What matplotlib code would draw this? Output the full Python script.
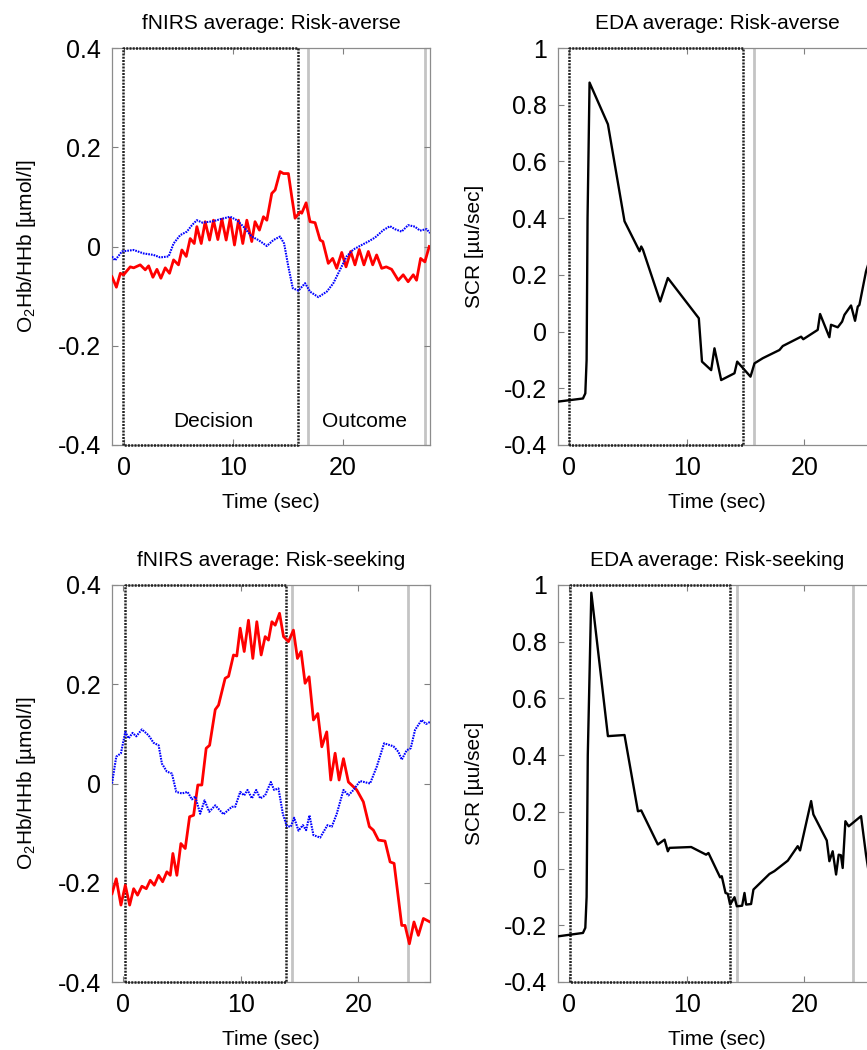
import matplotlib
matplotlib.use('Agg')
import matplotlib.pyplot as plt
from matplotlib.ticker import FuncFormatter

plt.rcParams['font.family'] = ['Liberation Sans', 'DejaVu Sans']
plt.rcParams['axes.unicode_minus'] = False
plt.rcParams['mathtext.fontset'] = 'custom'
plt.rcParams['mathtext.rm'] = 'Liberation Sans'
plt.rcParams['mathtext.it'] = 'Liberation Sans:italic'
plt.rcParams['mathtext.default'] = 'regular'

# fNIRS, risk-averse (time in sec, concentration in umol/l)
ra_o2_t = [-1.08, -0.68, -0.32, -0.02, 0.59, 0.9, 1.5, 1.96, 2.27, 2.66, 3.03, 3.39, 3.79, 4.18,
           4.55, 5.0, 5.31, 5.71, 6.07, 6.44, 6.68, 7.08, 7.44, 7.84, 8.2, 8.6, 8.97, 9.36, 9.73,
           10.12, 10.49, 10.88, 11.25, 11.7, 12.0, 12.4, 12.77, 13.08, 13.53, 13.84, 14.29, 14.6,
           15.05, 15.36, 15.66, 16.12, 16.27, 16.67, 17.03, 17.49, 17.95, 18.2, 18.7, 19.1, 19.47,
           19.93, 20.32, 20.75, 21.14, 21.53, 21.96, 22.36, 22.76, 23.12, 23.58, 24.0, 24.49, 25.1,
           25.55, 26.0, 26.47, 26.77, 27.14, 27.53, 27.93]
ra_o2 = [-0.061, -0.082, -0.054, -0.057, -0.041, -0.043, -0.037, -0.047, -0.039, -0.062, -0.046,
         -0.064, -0.043, -0.054, -0.027, -0.037, -0.007, -0.02, 0.016, 0.006, 0.04, 0.006, 0.05,
         0.013, 0.053, 0.014, 0.055, 0.013, 0.057, 0.003, 0.053, 0.006, 0.053, 0.01, 0.05, 0.033,
         0.06, 0.053, 0.107, 0.114, 0.151, 0.147, 0.147, 0.1, 0.057, 0.07, 0.067, 0.088, 0.05,
         0.048, 0.013, 0.01, -0.034, -0.024, -0.044, -0.012, -0.041, -0.01, -0.037, -0.006, -0.037,
         -0.01, -0.037, -0.017, -0.044, -0.041, -0.046, -0.068, -0.057, -0.071, -0.057, -0.068,
         -0.024, -0.031, 0.0]
ra_hhb_t = [-1.08, -0.8, -0.17, 0.9, 1.81, 2.72, 3.33, 4.1, 4.55, 5.16, 5.77, 6.23, 6.68, 7.2, 8.2,
            8.81, 9.73, 10.34, 10.94, 11.7, 12.31, 13.08, 13.68, 14.29, 14.66, 15.05, 15.45, 15.96,
            16.58, 17.03, 17.79, 18.56, 19.16, 19.77, 20.38, 20.99, 21.75, 22.36, 22.97, 23.73,
            24.34, 24.79, 25.4, 26.0, 26.62, 27.08, 27.69, 28.0]
ra_hhb = [-0.02, -0.028, -0.01, -0.007, -0.014, -0.017, -0.022, -0.02, 0.006, 0.023, 0.03, 0.043,
          0.053, 0.048, 0.051, 0.055, 0.06, 0.053, 0.04, 0.02, 0.013, 0.001, 0.013, 0.02, 0.006,
          -0.041, -0.084, -0.089, -0.074, -0.091, -0.102, -0.091, -0.074, -0.047, -0.02, -0.006,
          0.003, 0.01, 0.018, 0.033, 0.041, 0.035, 0.03, 0.043, 0.04, 0.032, 0.035, 0.027]

# fNIRS, risk-seeking
rs_o2_t = [-0.93, -0.57, -0.17, 0.2, 0.57, 0.91, 1.24, 1.61, 1.98, 2.32, 2.66, 3.03, 3.37, 3.73,
           4.02, 4.24, 4.58, 4.92, 5.29, 5.66, 6.0, 6.36, 6.7, 7.07, 7.36, 7.84, 8.12, 8.68, 8.97,
           9.39, 9.67, 9.96, 10.3, 10.66, 11.03, 11.37, 11.74, 12.08, 12.36, 12.65, 12.93, 13.3,
           13.64, 14.06, 14.48, 14.82, 15.13, 15.47, 15.81, 16.18, 16.55, 16.89, 17.31, 17.65,
           18.02, 18.36, 18.73, 19.15, 19.86, 20.42, 20.93, 21.27, 21.7, 22.26, 22.69, 23.03,
           23.68, 23.96, 24.33, 24.72, 25.09, 25.52, 26.08]
rs_o2 = [-0.222, -0.192, -0.245, -0.205, -0.245, -0.212, -0.225, -0.207, -0.212, -0.195, -0.205,
         -0.185, -0.198, -0.178, -0.185, -0.141, -0.185, -0.121, -0.131, -0.067, -0.064, -0.003,
         -0.003, 0.071, 0.077, 0.149, 0.158, 0.212, 0.216, 0.259, 0.257, 0.313, 0.266, 0.329,
         0.252, 0.326, 0.259, 0.296, 0.289, 0.326, 0.319, 0.343, 0.296, 0.286, 0.309, 0.252,
         0.266, 0.202, 0.215, 0.128, 0.141, 0.074, 0.104, 0.007, 0.061, 0.007, 0.05, 0.003,
         -0.013, -0.037, -0.087, -0.094, -0.114, -0.116, -0.158, -0.161, -0.286, -0.286, -0.323,
         -0.279, -0.306, -0.272, -0.279]
rs_hhb_t = [-0.93, -0.57, -0.17, 0.2, 0.48, 0.82, 1.13, 1.61, 2.18, 2.6, 3.03, 3.31, 3.73, 4.16,
            4.53, 5.01, 5.49, 5.86, 6.14, 6.56, 6.93, 7.33, 7.84, 8.54, 9.25, 9.53, 9.96, 10.3,
            10.58, 10.95, 11.32, 11.66, 12.08, 12.56, 12.84, 13.21, 13.58, 13.92, 14.26, 14.54,
            14.91, 15.28, 15.56, 15.84, 16.18, 16.75, 17.37, 17.74, 18.16, 18.73, 19.15, 19.58,
            20.14, 20.99, 21.56, 22.18, 22.97, 23.39, 23.68, 24.1, 24.44, 24.81, 25.37, 25.74,
            26.08]
rs_hhb = [0.0, 0.054, 0.061, 0.104, 0.091, 0.102, 0.095, 0.109, 0.097, 0.082, 0.077, 0.04, 0.024,
          0.02, -0.017, -0.02, -0.017, -0.032, -0.026, -0.061, -0.034, -0.057, -0.044, -0.062,
          -0.047, -0.047, -0.017, -0.024, -0.013, -0.03, -0.013, -0.03, -0.024, 0.003, -0.013,
          -0.01, -0.061, -0.086, -0.087, -0.069, -0.095, -0.084, -0.094, -0.064, -0.104, -0.109,
          -0.084, -0.087, -0.061, -0.013, -0.024, -0.013, 0.005, 0.0, 0.034, 0.081, 0.075, 0.064,
          0.048, 0.067, 0.071, 0.108, 0.128, 0.12, 0.124]

# EDA, risk-averse (SCR)
ra_eda_t = [-0.93, 1.19, 1.39, 1.5, 1.58, 1.75, 3.31, 4.72, 6.0, 6.14, 6.28, 7.75, 8.4, 11.03,
            11.3, 12.08, 12.36, 12.93, 14.06, 14.29, 15.42, 15.76, 16.46, 17.88, 18.16, 19.72,
            19.9, 21.13, 21.33, 22.12, 22.26, 22.83, 23.2, 23.4, 23.96, 24.3, 24.53, 24.67, 25.23,
            25.9]
ra_eda = [-0.247, -0.236, -0.218, -0.1, 0.4, 0.878, 0.731, 0.389, 0.283, 0.3, 0.289, 0.106, 0.189,
          0.047, -0.106, -0.136, -0.059, -0.171, -0.147, -0.106, -0.159, -0.112, -0.094, -0.065,
          -0.051, -0.018, -0.027, 0.006, 0.062, -0.02, 0.024, 0.015, 0.035, 0.059, 0.092, 0.038,
          0.088, 0.094, 0.212, 0.3]

# EDA, risk-seeking (SCR)
rs_eda_t = [-0.93, 1.19, 1.39, 1.5, 1.6, 1.9, 3.31, 4.72, 5.86, 6.14, 7.55, 8.12, 8.4, 8.54,
            10.38, 11.65, 11.85, 12.84, 12.98, 13.3, 13.49, 13.69, 14.06, 14.26, 14.71, 14.91,
            15.05, 15.47, 15.67, 17.03, 17.45, 18.59, 19.43, 19.63, 20.57, 20.76, 21.9, 22.12,
            22.4, 22.69, 22.91, 23.1, 23.25, 23.48, 23.76, 24.81, 25.23, 25.6]
rs_eda = [-0.239, -0.227, -0.209, -0.1, 0.4, 0.973, 0.467, 0.471, 0.202, 0.205, 0.085, 0.102,
          0.061, 0.073, 0.076, 0.049, 0.055, -0.031, -0.027, -0.086, -0.089, -0.127, -0.101,
          -0.133, -0.131, -0.086, -0.127, -0.125, -0.074, -0.019, -0.009, 0.028, 0.079, 0.064,
          0.238, 0.191, 0.099, 0.026, 0.061, -0.021, 0.049, 0.047, 0.002, 0.167, 0.149, 0.185,
          0.049, -0.05]

# event markers: decision window (start, end) and gray onset lines
ra_fnirs_decision = (-0.05, 15.9)
ra_fnirs_events = [16.8, 27.53]
rs_fnirs_decision = (0.2, 13.83)
rs_fnirs_events = [14.34, 24.24]
ra_eda_decision = (0.0, 14.8)
ra_eda_events = [15.7]
rs_eda_decision = (0.1, 13.69)
rs_eda_events = [14.26, 24.16]

fig = plt.figure(figsize=(8.67, 10.5), dpi=100)
W, H = 867.0, 1050.0


def make_axes(left, top, width=318, height=397):
    return fig.add_axes([left / W, 1 - (top + height) / H, width / W, height / H])


def style(ax, xlim, ylim, yticks, title, ylabel):
    ax.set_xlim(xlim)
    ax.set_ylim(ylim)
    ax.set_xticks([0, 10, 20])
    ax.set_yticks(yticks)
    ax.yaxis.set_major_formatter(FuncFormatter(lambda v, p: '%g' % round(v, 2)))
    ax.tick_params(direction='in', length=4, width=0.8, color='#808080', labelsize=18,
                   top=True, right=True, pad=8)
    for s in ax.spines.values():
        s.set_color('#8c8c8c')
        s.set_linewidth(0.9)
    ax.set_title(title, fontsize=15, pad=14)
    ax.set_xlabel('Time (sec)', fontsize=15, labelpad=9)
    ax.set_ylabel(ylabel, fontsize=15, labelpad=14)


def events(ax, decision, marks, ylim):
    x0, x1 = decision
    ax.plot([x0, x0, x1, x1, x0], [ylim[0], ylim[1], ylim[1], ylim[0], ylim[0]],
            color='#222222', lw=1.8, ls=(0, (0.8, 0.5)), clip_on=False, zorder=3)
    for m in marks:
        ax.axvline(m, color='#c4c4c4', lw=2, zorder=1)


fn_ylim = (-0.4, 0.4)
eda_ylim = (-0.4, 1.0)
fn_label = 'O$_2$Hb/HHb [µmol/l]'
eda_label = 'SCR [µu/sec]'
red_kw = dict(color='red', lw=2.0, solid_joinstyle='round', zorder=4)
blue_kw = dict(color='blue', lw=1.5, ls=(0, (0.8, 0.5)), zorder=4)
eda_kw = dict(color='black', lw=1.7, solid_joinstyle='round', zorder=4)

ax1 = make_axes(112, 48)
events(ax1, ra_fnirs_decision, ra_fnirs_events, fn_ylim)
ax1.plot(ra_o2_t, ra_o2, **red_kw)
ax1.plot(ra_hhb_t, ra_hhb, **blue_kw)
style(ax1, (-1.08, 28.0), fn_ylim, [-0.4, -0.2, 0, 0.2, 0.4], 'fNIRS average: Risk-averse', fn_label)
ax1.text(8.2, -0.353, 'Decision', fontsize=15, ha='center', va='center')
ax1.text(22.05, -0.353, 'Outcome', fontsize=15, ha='center', va='center')

ax2 = make_axes(558, 48)
events(ax2, ra_eda_decision, ra_eda_events, eda_ylim)
ax2.plot(ra_eda_t, ra_eda, **eda_kw)
style(ax2, (-0.93, 26.08), eda_ylim, [-0.4, -0.2, 0, 0.2, 0.4, 0.6, 0.8, 1.0],
      'EDA average: Risk-averse', eda_label)

ax3 = make_axes(112, 585)
events(ax3, rs_fnirs_decision, rs_fnirs_events, fn_ylim)
ax3.plot(rs_o2_t, rs_o2, **red_kw)
ax3.plot(rs_hhb_t, rs_hhb, **blue_kw)
style(ax3, (-0.93, 26.08), fn_ylim, [-0.4, -0.2, 0, 0.2, 0.4], 'fNIRS average: Risk-seeking', fn_label)

ax4 = make_axes(558, 585)
events(ax4, rs_eda_decision, rs_eda_events, eda_ylim)
ax4.plot(rs_eda_t, rs_eda, **eda_kw)
style(ax4, (-0.93, 26.08), eda_ylim, [-0.4, -0.2, 0, 0.2, 0.4, 0.6, 0.8, 1.0],
      'EDA average: Risk-seeking', eda_label)

fig.savefig('out.png', dpi=100)
